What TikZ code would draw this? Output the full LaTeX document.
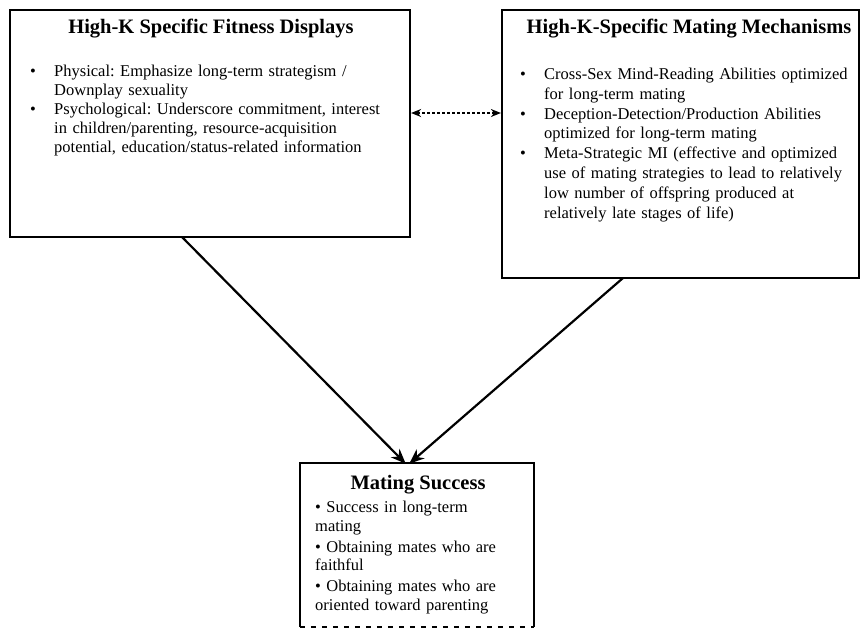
\documentclass[tikz,border=0pt]{standalone}
\usepackage{fontspec}
\setmainfont{Liberation Serif}
\usetikzlibrary{arrows.meta}
\frenchspacing
\newcommand\bitem[1]{\par\hangindent=24pt\hangafter=1\noindent\makebox[24pt][l]{\textbullet}#1\par}
\begin{document}
\begin{tikzpicture}[x=1pt,y=-1pt,
  boxstyle/.style={draw, line width=2.2pt, inner sep=0pt},
  titlestyle/.style={font=\fontsize{20.5}{24}\selectfont\bfseries, inner sep=0pt},
  bodystyle/.style={font=\fontsize{16.5}{19}\selectfont\frenchspacing, inner sep=0pt, align=left, anchor=north west},
  link/.style={line width=2.2pt, -{Stealth[length=15pt,width=12pt]}, shorten >=-1pt}]
\useasboundingbox (0,0) rectangle (861,630);
% boxes
\node[boxstyle, minimum width=400pt, minimum height=227pt] (fit) at (210,123.5) {};
\node[boxstyle, minimum width=357pt, minimum height=268pt] (mech) at (680.5,144) {};
\node[inner sep=0pt, minimum width=234pt, minimum height=164pt] (succ) at (417,545) {};
\draw[line width=2.2pt] (succ.south west) -- (succ.north west) -- (succ.north east) -- (succ.south east);
\draw[line width=2pt, dash pattern=on 5pt off 6pt] (succ.south west) -- (succ.south east);
% titles
\node[titlestyle] (fitT) at (211,29) {High-K Specific Fitness Displays};
\node[titlestyle] (mechT) at (689,29) {High-K-Specific Mating Mechanisms};
\node[titlestyle] (succT) at (418,485) {Mating Success};
% bodies
\node[bodystyle, text width=375pt] (fitB) at (30,57.5) {%
\bitem{Physical: Emphasize long-term strategism /\newline Downplay sexuality}%
\bitem{Psychological: Underscore commitment, interest\newline in children/parenting, resource-acquisition\newline potential, education/status-related information}};
\node[bodystyle, text width=335pt, font=\fontsize{16.5}{19.8}\selectfont\frenchspacing] (mechB) at (520,59.5) {%
\bitem{Cross-Sex Mind-Reading Abilities optimized\newline for long-term mating}%
\bitem{Deception-Detection/Production Abilities\newline optimized for long-term mating}%
\bitem{Meta-Strategic MI (effective and optimized\newline use of mating strategies to lead to relatively\newline low number of offspring produced at\newline relatively late stages of life)}};
\node[bodystyle, text width=230pt, font=\fontsize{16.5}{18.5}\selectfont] (succB) at (315,501) {%
\textbullet{} Success in long-term\newline mating\par\vspace{2.5pt}
\textbullet{} Obtaining mates who are\newline faithful\par\vspace{2.5pt}
\textbullet{} Obtaining mates who are\newline oriented toward parenting};
% connectors
\coordinate (fitOut) at (182,237);
\coordinate (mechOut) at (623,278);
\coordinate (inA) at (405,463);
\coordinate (inB) at (410,463);
\draw[link] (fitOut) -- (inA);
\draw[link] (mechOut) -- (inB);
\draw[line width=1.6pt, dash pattern=on 3pt off 2pt, {Stealth[length=10pt,width=8pt]}-{Stealth[length=10pt,width=8pt]}] (fit.east |- 0,113) -- (mech.west |- 0,113);
\end{tikzpicture}
\end{document}
